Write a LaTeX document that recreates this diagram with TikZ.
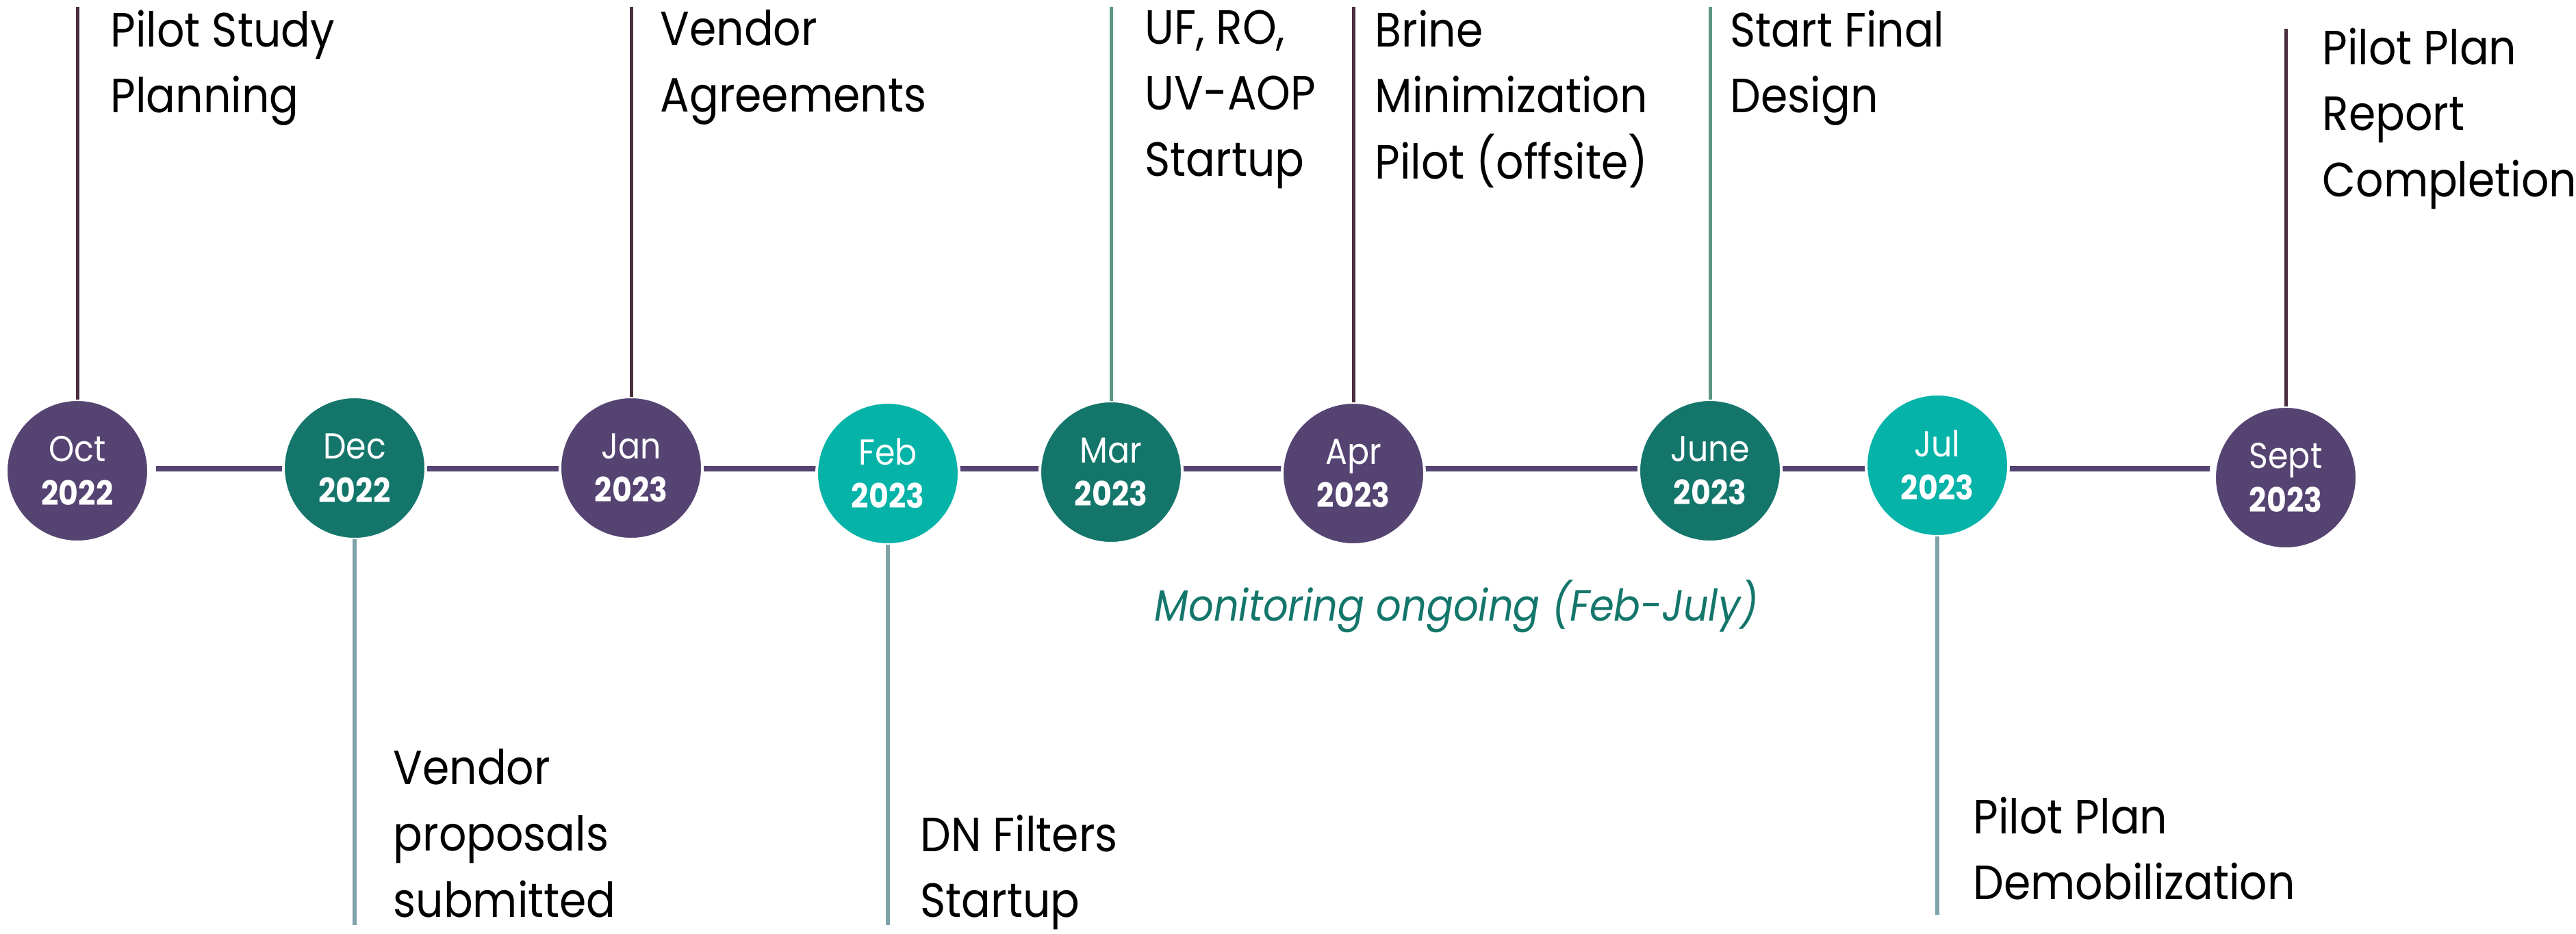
\documentclass[tikz,border=0pt]{standalone}
\usepackage{fontspec}
\setmainfont[FakeStretch=0.9]{Poppins}
\usepackage{tikz}

\definecolor{mplum}{RGB}{85,67,114}
\definecolor{mteal}{RGB}{20,118,107}
\definecolor{mlight}{RGB}{5,179,168}
\definecolor{stemplum}{RGB}{75,45,62}
\definecolor{stemteal}{RGB}{91,150,130}
\definecolor{stemslate}{RGB}{125,163,168}

\tikzset{
	month/.style={shape=circle,minimum size=2.08cm,inner sep=0pt,outer sep=0pt,draw=white,line width=0.4mm,text=white,align=center,font=\fontsize{14}{18}\selectfont},
	event/.style={anchor=north west,inner sep=0pt,align=left,font=\fontsize{20}{27.5}\selectfont},
	axis/.style={draw=mplum,line width=0.8mm},
	stemup/.style={draw=stemplum,line width=0.5mm},
	stemmid/.style={draw=stemteal,line width=0.5mm},
	stemdown/.style={draw=stemslate,line width=0.55mm}
}

\newcommand{\when}[2]{{\fontsize{15}{18}\selectfont #1}\\\textbf{#2}}

\begin{document}
\begin{tikzpicture}
	\useasboundingbox (0,0) rectangle (37.63,13.64);
	
	\coordinate (axisL) at (2.28,6.79);
	\coordinate (axisR) at (32.28,6.79);
	\draw[axis] (axisL) -- (axisR);
	
	\node[month,fill=mplum]  (oct)  at (1.13, 6.76)  {\when{Oct}{2022}};
	\node[month,fill=mteal]  (dec)  at (5.18, 6.80)  {\when{Dec}{2022}};
	\node[month,fill=mplum]  (jan)  at (9.22, 6.80)  {\when{Jan}{2023}};
	\node[month,fill=mlight] (feb)  at (12.97, 6.72) {\when{Feb}{2023}};
	\node[month,fill=mteal]  (mar)  at (16.23, 6.74) {\when{Mar}{2023}};
	\node[month,fill=mplum]  (apr)  at (19.77, 6.72) {\when{Apr}{2023}};
	\node[month,fill=mteal]  (jun)  at (24.98, 6.76) {\when{June}{2023}};
	\node[month,fill=mlight] (jul)  at (28.30, 6.84) {\when{Jul}{2023}};
	\node[month,fill=mplum]  (sep)  at (33.39, 6.66) {\when{Sept}{2023}};
	
	\coordinate (octend) at (1.13, 13.54);
	\coordinate (decend) at (5.18, 0.12);
	\coordinate (janend) at (9.22, 13.54);
	\coordinate (febend) at (12.97, 0.12);
	\coordinate (marend) at (16.23, 13.54);
	\coordinate (aprend) at (19.77, 13.54);
	\coordinate (junend) at (24.98, 13.54);
	\coordinate (julend) at (28.30, 0.27);
	\coordinate (sepend) at (33.39, 13.22);
	
	\draw[stemup]   (oct.north) -- (octend);
	\draw[stemdown] (dec.south) -- (decend);
	\draw[stemup]   (jan.north) -- (janend);
	\draw[stemdown] (feb.south) -- (febend);
	\draw[stemmid]  (mar.north) -- (marend);
	\draw[stemup]   (apr.north) -- (aprend);
	\draw[stemmid]  (jun.north) -- (junend);
	\draw[stemdown] (jul.south) -- (julend);
	\draw[stemup]   (sep.north) -- (sepend);
	
	\node[event] (octtxt) at (1.61, 13.50)  {Pilot Study\\Planning};
	\node[event] (dectxt) at (5.74, 2.70)   {Vendor\\proposals\\submitted};
	\node[event] (jantxt) at (9.64, 13.50)  {Vendor\\Agreements};
	\node[event] (febtxt) at (13.44, 1.74)  {DN Filters\\Startup};
	\node[event] (martxt) at (16.72, 13.50) {UF, RO,\\UV-AOP\\Startup};
	\node[event] (aprtxt) at (20.08, 13.50) {Brine\\Minimization\\Pilot (offsite)};
	\node[event] (juntxt) at (25.27, 13.50) {Start Final\\Design};
	\node[event] (jultxt) at (28.82, 2.00)  {Pilot Plan\\Demobilization};
	\node[event] (septxt) at (33.92, 13.24) {Pilot Plan\\Report\\Completion};
	
	\node[anchor=base west,inner sep=0pt,text=mteal,font=\fontsize{18.2}{22}\selectfont\itshape] (mon) at (16.86, 4.57) {Monitoring ongoing (Feb-July)};
	
\end{tikzpicture}
\end{document}
